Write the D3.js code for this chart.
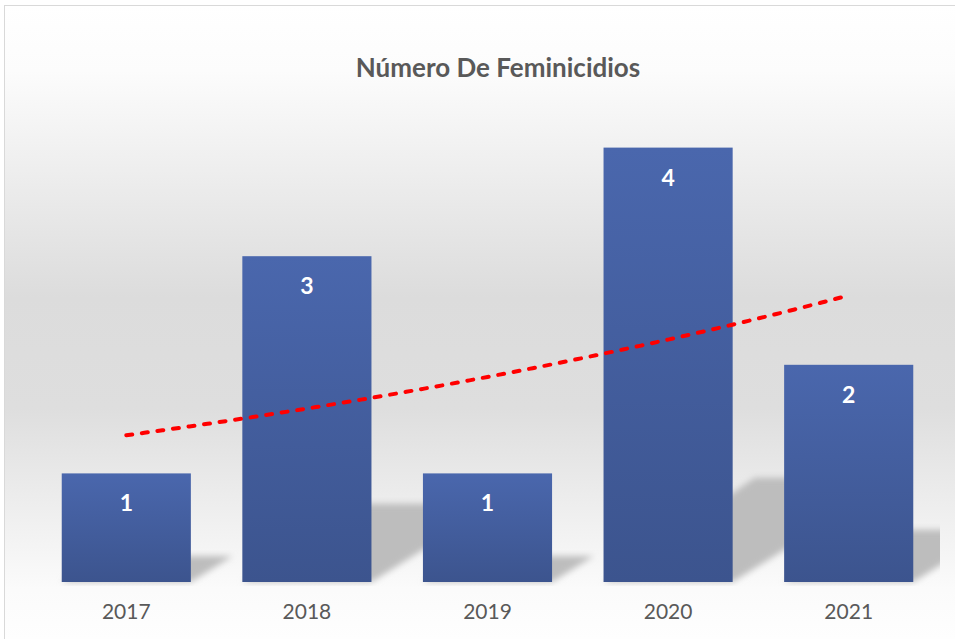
<!DOCTYPE html>
<html>
<head>
<meta charset="utf-8">
<script src="https://cdn.jsdelivr.net/npm/d3@7"></script>
<style>
  body { margin: 0; background: #fff; }
  svg { display: block; }
</style>
</head>
<body>
<div id="chart"></div>
<script>
// data
const years = ["2017", "2018", "2019", "2020", "2021"];
const cases = [1, 3, 1, 4, 2];
const chartTitle = "Número De Feminicidios";

const W = 955, H = 639;
const base = 582;

const svg = d3.select("#chart").append("svg")
  .attr("width", W)
  .attr("height", H);

const defs = svg.append("defs");

// background: white -> grey -> white
const bg = defs.append("linearGradient")
  .attr("id", "bgGrad")
  .attr("x1", 0).attr("y1", 0).attr("x2", 0).attr("y2", 1);
[[0, "#ffffff"], [0.1, "#fcfcfc"], [0.45, "#dcdcdc"], [0.62, "#dedede"], [0.9, "#fbfbfb"], [1, "#ffffff"]]
  .forEach(s => bg.append("stop").attr("offset", s[0]).attr("stop-color", s[1]));

const barGrad = defs.append("linearGradient")
  .attr("id", "barGrad")
  .attr("x1", 0).attr("y1", 0).attr("x2", 0).attr("y2", 1);
barGrad.append("stop").attr("offset", 0).attr("stop-color", "#4a67ad");
barGrad.append("stop").attr("offset", 1).attr("stop-color", "#3c548e");

defs.append("filter")
  .attr("id", "blur")
  .attr("x", "-20%").attr("y", "-20%").attr("width", "140%").attr("height", "140%")
  .append("feGaussianBlur").attr("stdDeviation", 3.2);

defs.append("clipPath").attr("id", "plotClip")
  .append("rect").attr("x", 20).attr("y", 30).attr("width", 920).attr("height", base - 30 + 4);

svg.append("rect")
  .attr("x", 4.5).attr("y", 5.5)
  .attr("width", W + 10).attr("height", H + 10)
  .attr("fill", "url(#bgGrad)")
  .attr("stroke", "#d9d9d9")
  .attr("stroke-width", 1);

// scales
const x = d3.scaleBand()
  .domain(years)
  .range([36, 939])
  .paddingInner(0.285)
  .paddingOuter(0.1425);

const y = d3.scaleLinear()
  .domain([0, 5])
  .range([base, base - 543]);

// title
svg.append("text")
  .attr("x", 498)
  .attr("y", 77)
  .attr("text-anchor", "middle")
  .style("font-family", "Lato, 'Open Sans', sans-serif")
  .style("font-weight", "bold")
  .style("font-size", "26px")
  .style("fill", "#595959")
  .text(chartTitle);

const plot = svg.append("g").attr("clip-path", "url(#plotClip)");

// perspective shadows behind the bars
plot.selectAll(".shadow")
  .data(cases)
  .enter().append("polygon")
  .attr("class", "shadow")
  .attr("points", (d, i) => {
    const x0 = x(years[i]), x1 = x0 + x.bandwidth();
    const sh = (base - y(d)) * 0.24;
    return [
      [x0, base], [x1, base],
      [x1 + sh * 1.6, base - sh], [x0 + sh * 1.45, base - sh]
    ].join(" ");
  })
  .attr("fill", "#bdbdbd")
  .attr("filter", "url(#blur)");

// bars
plot.selectAll(".bar")
  .data(cases)
  .enter().append("rect")
  .attr("class", "bar")
  .attr("x", (d, i) => x(years[i]))
  .attr("y", d => y(d))
  .attr("width", x.bandwidth())
  .attr("height", d => base - y(d))
  .attr("fill", "url(#barGrad)");

// value labels
svg.selectAll(".val")
  .data(cases)
  .enter().append("text")
  .attr("class", "val")
  .attr("x", (d, i) => x(years[i]) + x.bandwidth() / 2)
  .attr("y", d => y(d) + 38)
  .attr("text-anchor", "middle")
  .style("font-family", "Lato, 'Open Sans', sans-serif")
  .style("font-weight", "bold")
  .style("font-size", "23px")
  .style("fill", "#ffffff")
  .text(d => d);

// category axis
const xAxis = svg.append("g")
  .attr("transform", `translate(0,${base})`)
  .call(d3.axisBottom(x).tickSize(0).tickPadding(22));
xAxis.select(".domain").remove();
xAxis.selectAll("text")
  .attr("dy", "0.71em")
  .style("font-family", "Lato, 'Open Sans', sans-serif")
  .style("font-size", "21px")
  .style("fill", "#595959");

// exponential trendline (least squares on ln y, x = 1..n)
const n = cases.length;
const xs = d3.range(1, n + 1);
const lys = cases.map(v => Math.log(v));
const mx = d3.mean(xs), my = d3.mean(lys);
const b = d3.sum(xs, (v, i) => (v - mx) * (lys[i] - my)) / d3.sum(xs, v => (v - mx) * (v - mx));
const a = Math.exp(my - b * mx);

const step = x.step();
const xPos = t => x(years[0]) + x.bandwidth() / 2 + (t - 1) * step;
const trendPts = d3.range(1, n + 0.001, 0.05);

svg.append("path")
  .datum(trendPts)
  .attr("d", d3.line().x(t => xPos(t)).y(t => y(a * Math.exp(b * t))))
  .attr("fill", "none")
  .attr("stroke", "#ff0000")
  .attr("stroke-width", 4)
  .attr("stroke-dasharray", "6 9.7")
  .attr("stroke-linecap", "round");
</script>
</body>
</html>
